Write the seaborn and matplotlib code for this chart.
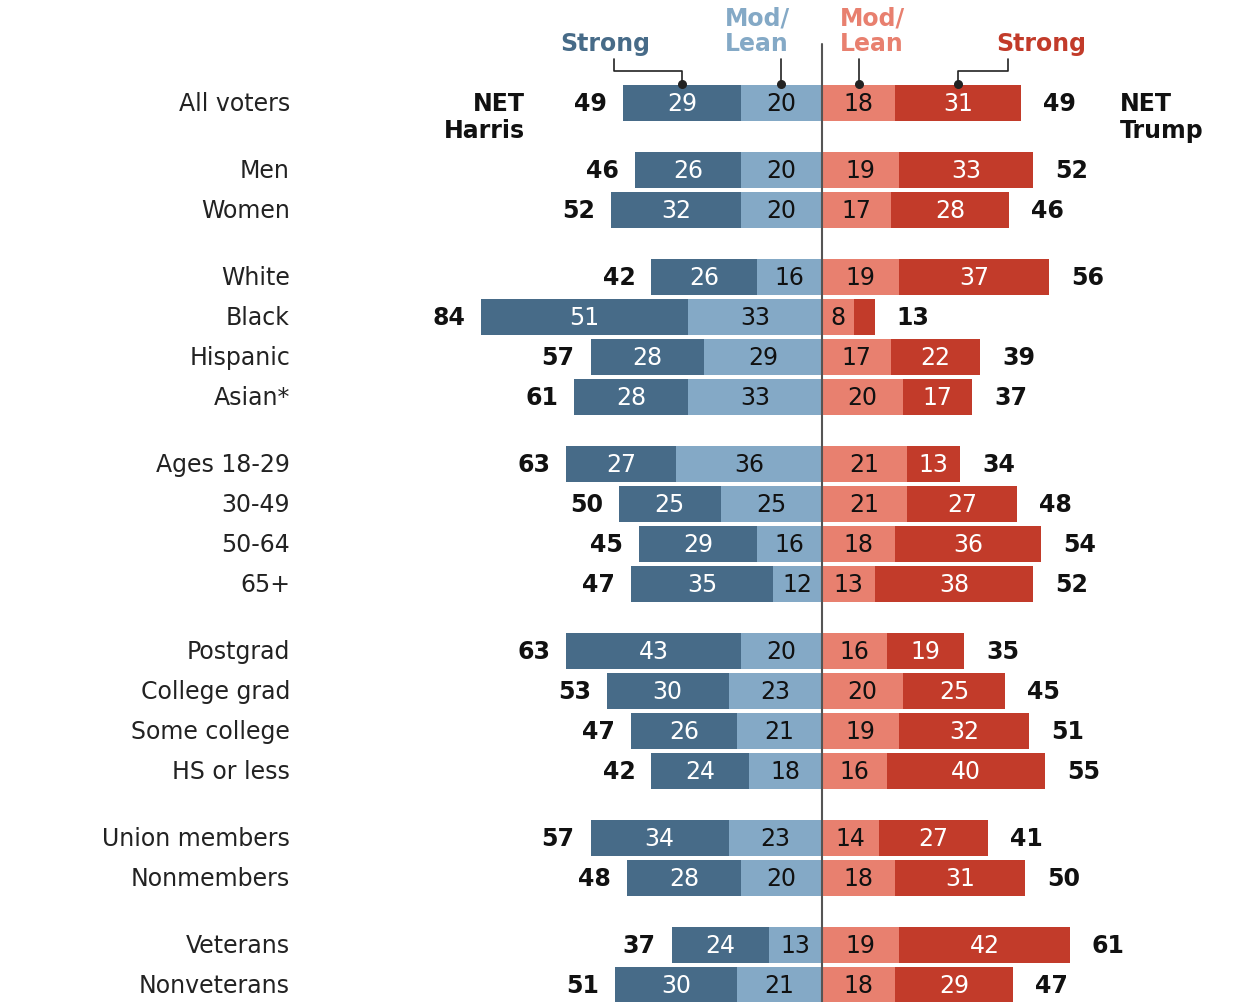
import pandas as pd
import matplotlib.pyplot as plt
import seaborn as sns

# 数据：各群体的强/中等支持比例
labels = ['All voters', 'Men', 'Women', 'White', 'Black', 'Hispanic', 'Asian*',
          'Ages 18-29', '30-49', '50-64', '65+', 'Postgrad', 'College grad',
          'Some college', 'HS or less', 'Union members', 'Nonmembers',
          'Veterans', 'Nonveterans']
groups = [0, 1, 1, 2, 2, 2, 2, 3, 3, 3, 3, 4, 4, 4, 4, 5, 5, 6, 6]
harris_strong = [29, 26, 32, 26, 51, 28, 28, 27, 25, 29, 35, 43, 30, 26, 24, 34, 28, 24, 30]
harris_mod = [20, 20, 20, 16, 33, 29, 33, 36, 25, 16, 12, 20, 23, 21, 18, 23, 20, 13, 21]
trump_mod = [18, 19, 17, 19, 8, 17, 20, 21, 21, 18, 13, 16, 20, 19, 16, 14, 18, 19, 18]
trump_strong = [31, 33, 28, 37, 5, 22, 17, 13, 27, 36, 38, 19, 25, 32, 40, 27, 31, 42, 29]
net_harris = [49, 46, 52, 42, 84, 57, 61, 63, 50, 45, 47, 63, 53, 47, 42, 57, 48, 37, 51]
net_trump = [49, 52, 46, 56, 13, 39, 37, 34, 48, 54, 52, 35, 45, 51, 55, 41, 50, 61, 47]

C_DB = '#476b88'
C_LB = '#84a9c6'
C_LR = '#e8806f'
C_DR = '#c23b2a'

# 行位置（像素坐标，组间多留空）
ypos = []
y = 104
for i, g in enumerate(groups):
    if i > 0:
        y += 40 if g == groups[i - 1] else 67
    ypos.append(y)

df = pd.DataFrame({'label': labels, 'y': ypos,
                   'hs': harris_strong, 'hm': harris_mod,
                   'tm': trump_mod, 'ts': trump_strong,
                   'nh': net_harris, 'nt': net_trump})
df['nh_neg'] = -df['nh']
df['hm_neg'] = -df['hm']

sns.set_theme(style='white')
plt.rcParams['font.family'] = ['DejaVu Sans']

W, H = 1248, 1003
PX = 4.06  # 每个百分点对应的像素
CX = 822
fig = plt.figure(figsize=(W / 100, H / 100), dpi=100)
ax = fig.add_axes([0, 0, 1, 1])


def px(x):
    return (x - CX) / PX


for col, c in [('nh_neg', C_DB), ('hm_neg', C_LB), ('nt', C_DR), ('tm', C_LR)]:
    sns.barplot(data=df, x=col, y='y', orient='y', native_scale=True,
                color=c, saturation=1, width=0.88, linewidth=0,
                errorbar=None, ax=ax)

ax.set_xlim(px(0), px(W))
ax.set_ylim(H, 0)
ax.axis('off')

fs = 17
for _, r in df.iterrows():
    yy = r['y']
    ax.text(px(290), yy, r['label'], ha='right', va='center', fontsize=fs, color='#222222')
    # 段内数字
    ax.text(-(r['hm'] + r['nh']) / 2, yy, str(r['hs']), ha='center', va='center',
            fontsize=fs, color='white')
    ax.text(-r['hm'] / 2, yy, str(r['hm']), ha='center', va='center', fontsize=fs, color='#111111')
    ax.text(r['tm'] / 2, yy, str(r['tm']), ha='center', va='center', fontsize=fs, color='#111111')
    if r['ts'] >= 8:
        ax.text((r['tm'] + r['nt']) / 2, yy, str(r['ts']), ha='center', va='center',
                fontsize=fs, color='white')
    # 净值
    ax.text(-r['nh'] - 16 / PX, yy, str(r['nh']), ha='right', va='center',
            fontsize=fs, fontweight='bold', color='#111111')
    ax.text(r['nt'] + 22 / PX, yy, str(r['nt']), ha='left', va='center',
            fontsize=fs, fontweight='bold', color='#111111')

# NET 标签
y0 = ypos[0]
ax.text(px(525), y0, 'NET', ha='right', va='center', fontsize=fs, fontweight='bold', color='#111111')
ax.text(px(525), y0 + 27, 'Harris', ha='right', va='center', fontsize=fs, fontweight='bold', color='#111111')
ax.text(px(1120), y0, 'NET', ha='left', va='center', fontsize=fs, fontweight='bold', color='#111111')
ax.text(px(1120), y0 + 27, 'Trump', ha='left', va='center', fontsize=fs, fontweight='bold', color='#111111')

# 中线
ax.plot([0, 0], [45, H], color='#555555', lw=1.5, zorder=5)

# 表头
ax.text(px(605), 44, 'Strong', ha='center', va='center', fontsize=fs, fontweight='bold', color=C_DB)
ax.text(px(757), 18, 'Mod/', ha='center', va='center', fontsize=fs, fontweight='bold', color=C_LB)
ax.text(px(757), 44, 'Lean', ha='center', va='center', fontsize=fs, fontweight='bold', color=C_LB)
ax.text(px(840), 18, 'Mod/', ha='left', va='center', fontsize=fs, fontweight='bold', color=C_LR)
ax.text(px(840), 44, 'Lean', ha='left', va='center', fontsize=fs, fontweight='bold', color=C_LR)
ax.text(px(1041), 44, 'Strong', ha='center', va='center', fontsize=fs, fontweight='bold', color=C_DR)

# 连接线
d_hs = -(harris_mod[0] + net_harris[0]) / 2
d_hm = -harris_mod[0] / 2
d_tm = trump_mod[0] / 2
d_ts = (trump_mod[0] + net_trump[0]) / 2
lc = '#222222'
ax.plot([px(614), px(614), d_hs, d_hs], [60, 72, 72, 85], color=lc, lw=1.2)
ax.plot([d_hm, d_hm], [60, 85], color=lc, lw=1.2)
ax.plot([d_tm, d_tm], [60, 85], color=lc, lw=1.2)
ax.plot([px(1008), px(1008), d_ts, d_ts], [60, 72, 72, 85], color=lc, lw=1.2)
ax.scatter([d_hs, d_hm, d_tm, d_ts], [85] * 4, s=30, color=lc, zorder=6)

fig.savefig('out.png', dpi=100)
